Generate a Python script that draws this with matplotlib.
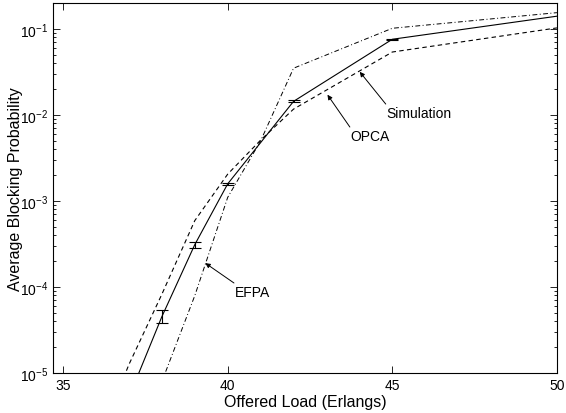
import numpy as np
import matplotlib
matplotlib.use("Agg")
from matplotlib import pyplot as plt
from matplotlib.ticker import LogLocator, FixedLocator

plt.rcParams['font.family'] = ['Liberation Sans', 'DejaVu Sans']
plt.rcParams['mathtext.fontset'] = 'custom'
plt.rcParams['mathtext.rm'] = 'Liberation Sans'
plt.rcParams['mathtext.it'] = 'Liberation Sans'

# offered load (Erlangs) vs. average blocking probability
sim_x = [37, 38, 39, 40, 42, 45, 50]
sim_y = [5.2e-6, 4.5e-5, 3.1e-4, 1.58e-3, 1.44e-2, 7.6e-2, 0.141]

# 95% confidence intervals of the simulation runs
err_x = [38, 39, 40, 42, 45]
err_lo = [3.8e-5, 2.86e-4, 1.53e-3, 1.40e-2, 7.5e-2]
err_hi = [5.4e-5, 3.33e-4, 1.63e-3, 1.48e-2, 7.7e-2]

opca_x = [36, 37, 38, 39, 40, 41, 42, 45, 50]
opca_y = [1.4e-6, 1.25e-5, 8.2e-5, 5.9e-4, 2.05e-3, 5.1e-3, 1.17e-2, 5.4e-2,
          0.103]

efpa_x = [38, 39, 40, 41, 42, 45, 50]
efpa_y = [7.9e-6, 7.9e-5, 1.1e-3, 5.0e-3, 3.5e-2, 0.102, 0.155]

if __name__ == '__main__':
    fig = plt.figure(figsize=(5.66, 4.14), dpi=100)
    ax = fig.add_axes([0.094, 0.097, 0.890, 0.893])

    ax.plot(sim_x, sim_y, '-', color='k', lw=0.8)
    ax.plot(opca_x, opca_y, '--', color='k', lw=0.8, dashes=(4, 3))
    ax.plot(efpa_x, efpa_y, '-.', color='k', lw=0.7, dashes=(5, 2.5, 1, 2.5))

    # error bars centred on the simulated points
    mid = np.array([sim_y[sim_x.index(v)] for v in err_x])
    yerr = [mid - np.array(err_lo), np.array(err_hi) - mid]
    ax.errorbar(err_x, mid, yerr=yerr, fmt='none', ecolor='k',
                elinewidth=0.8, capsize=4, capthick=0.8)

    ax.set_yscale('log')
    ax.set_xlim(34.7, 50)
    ax.set_ylim(1e-5, 0.2)
    ax.xaxis.set_major_locator(FixedLocator([35, 40, 45, 50]))
    ax.yaxis.set_major_locator(LogLocator(base=10, numticks=10))
    ax.yaxis.set_minor_locator(LogLocator(base=10, subs=np.arange(2, 10),
                                          numticks=20))

    ax.tick_params(which='both', direction='in', top=True, right=True,
                   labelsize=10, width=0.6)
    ax.tick_params(which='major', length=5)
    ax.tick_params(which='minor', length=2.5)
    for sp in ax.spines.values():
        sp.set_linewidth(0.8)

    ax.set_xlabel('Offered Load (Erlangs)', fontsize=11.5, labelpad=2)
    ax.set_ylabel('Average Blocking Probability', fontsize=11.5, labelpad=-2)

    # labels with arrows pointing at each curve
    arrow = dict(arrowstyle='-|>', color='k', lw=0.7, mutation_scale=7,
                 shrinkA=0, shrinkB=0)
    labels = [('Simulation', (44.01, 3.18e-2), (44.81, 1.05e-2), (44.80, 1.34e-2)),
              ('OPCA', (43.03, 1.72e-2), (43.73, 5.74e-3), (43.71, 7.24e-3)),
              ('EFPA', (39.32, 1.89e-4), (40.21, 8.67e-5), (40.19, 1.11e-4))]
    for text, tip, pos, tail in labels:
        ax.text(pos[0], pos[1], text, ha='left', va='center', fontsize=10)
        ax.annotate('', xy=tip, xytext=tail, arrowprops=arrow)

    fig.savefig('out.png', dpi=100)
